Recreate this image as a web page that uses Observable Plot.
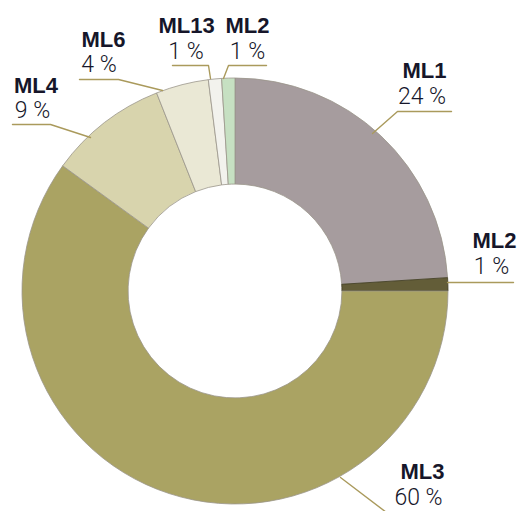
<!DOCTYPE html>
<html><head><meta charset="utf-8">
<script src="https://cdn.jsdelivr.net/npm/d3@7"></script>
<script src="https://cdn.jsdelivr.net/npm/@observablehq/plot@0.6"></script>
<style>body{margin:0;background:#fff}</style>
</head><body><div id="chart"></div>
<script>
// ---- data ----
const names = ["ML1", "ML2", "ML3", "ML4", "ML6", "ML13", "ML2"];
const shares = [24, 1, 60, 9, 4, 1, 1];
const pctLabels = ["24 %", "1 %", "60 %", "9 %", "4 %", "1 %", "1 %"];
const colors = ["#a69c9e", "#635d38", "#aaa363", "#d8d4ad", "#eae8d5", "#f2f2ed", "#c6e0c2"];

// ---- layout (pixels) ----
const W = 517, H = 511, CX = 235, CY = 291, R = 213, innerRatio = 0.502;
const nameAt = [[424, 77], [494, 247], [422, 478], [35.5, 92], [103, 46], [186, 32], [247, 32]];
const pctAt = [[421.5, 103], [491, 273], [418, 504], [32, 117], [98.5, 71], [185.5, 58], [247, 58]];
const leaderAt = [
  [[451, 111], [397, 111], [372, 133]],
  [[513, 282], [447, 282]],
  [[340, 477], [386, 512]],
  [[12, 124], [50, 124], [90, 137]],
  [[79, 79], [118, 79], [162, 90]],
  [[172, 65], [208, 65], [210, 78]],
  [[266, 65], [228, 65], [223, 78]]
];
const toX = px => (px - CX) / R, toY = py => (CY - py) / R;

const slices = names.map((n, i) => ({name: n, share: shares[i], pct: pctLabels[i], color: colors[i],
  nx: toX(nameAt[i][0]), ny: toY(nameAt[i][1]), px: toX(pctAt[i][0]), py: toY(pctAt[i][1])}));
const leaders = leaderAt.flatMap((pts, i) => pts.map(([a, b]) => ({id: i, x: toX(a), y: toY(b)})));

const arcs = d3.pie().sort(null).value(d => d.share)(slices);

function donut(index, scales) {
  const x = scales.x, y = scales.y;
  const cx = x(0), cy = y(0), r = x(1) - x(0), r0 = r * innerRatio;
  const arc = d3.arc().innerRadius(r0).outerRadius(r);
  const g = d3.create("svg:g").attr("transform", `translate(${cx},${cy})`);
  g.selectAll("path").data(arcs).join("path")
    .attr("d", arc)
    .attr("fill", d => d.data.color)
    .attr("stroke", d => d.index === 1 ? "#3f3b22" : "#9a968a")
    .attr("stroke-width", 0.8);
  return g.node();
}

const textColor = "#16162a";
const chart = Plot.plot({
  width: W, height: H,
  margin: 0,
  x: {domain: [-1, 1], range: [CX - R, CX + R], axis: null},
  y: {domain: [-1, 1], range: [CY + R, CY - R], axis: null},
  marks: [
    donut,
    Plot.line(leaders, {x: "x", y: "y", z: "id", stroke: "#aa9a5c", strokeWidth: 1.4}),
    Plot.text(slices, {x: "nx", y: "ny", text: "name", lineAnchor: "bottom", textAnchor: "middle",
      fill: textColor, fontSize: 22, fontWeight: "bold",
      fontFamily: "'Liberation Sans Narrow', 'Arial Narrow', 'Liberation Sans', sans-serif"}),
    Plot.text(slices, {x: "px", y: "py", text: "pct", lineAnchor: "bottom", textAnchor: "middle",
      fill: textColor, fontSize: 23, fontWeight: 300,
      fontFamily: "Roboto, Lato, 'Open Sans', sans-serif"})
  ]
});
document.getElementById("chart").appendChild(chart);
</script>
</body></html>
